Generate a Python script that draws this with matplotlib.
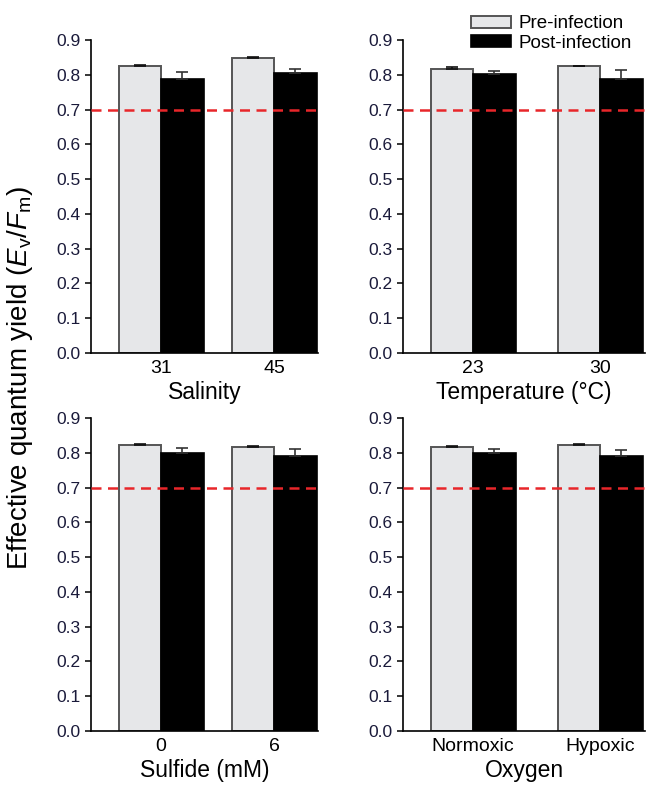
import matplotlib
matplotlib.use("Agg")
import matplotlib.pyplot as plt
from matplotlib.patches import Patch
import numpy as np

plt.rcParams['font.family'] = ['Liberation Sans', 'DejaVu Sans']
plt.rcParams['mathtext.fontset'] = 'custom'
plt.rcParams['mathtext.rm'] = 'Liberation Sans'
plt.rcParams['mathtext.it'] = 'Liberation Sans:italic'

# ---- data ----
panel_titles = ["Salinity", "Temperature (°C)", "Sulfide (mM)", "Oxygen"]
panel_categories = [["31", "45"], ["23", "30"], ["0", "6"], ["Normoxic", "Hypoxic"]]
pre_values = [[0.825, 0.849], [0.818, 0.824], [0.822, 0.817], [0.817, 0.821]]
pre_errors = [[0.003, 0.003], [0.003, 0.001], [0.003, 0.003], [0.003, 0.003]]
post_values = [[0.787, 0.804], [0.801, 0.789], [0.798, 0.792], [0.798, 0.792]]
post_errors = [[0.020, 0.014], [0.009, 0.024], [0.016, 0.018], [0.014, 0.017]]
threshold = 0.7
yticks = [0.0, 0.1, 0.2, 0.3, 0.4, 0.5, 0.6, 0.7, 0.8, 0.9]
legend_labels = ["Pre-infection", "Post-infection"]

W, H = 650, 786
fig = plt.figure(figsize=(W / 100, H / 100), dpi=100)

# axes rectangles in pixels: (left, right, top, bottom)
rects = [(91, 318, 40, 353), (403, 645, 40, 353),
         (91, 318, 418, 731), (403, 645, 418, 731)]
pre_color = "#e6e7e9"
post_color = "#000000"

for i in range(4):
    l, r, t, b = rects[i]
    ax = fig.add_axes([l / W, (H - b) / H, (r - l) / W, (b - t) / H])
    if l < 200:
        c0, sp = 161, 113
    else:
        c0, sp = 473, 127
    bw = 42.5 / sp
    x = np.arange(2)
    ax.bar(x - bw / 2, pre_values[i], bw, color=pre_color, edgecolor="#555555",
           linewidth=1.4, zorder=2)
    ax.bar(x + bw / 2, post_values[i], bw, color=post_color, edgecolor="#000000",
           linewidth=1.2, zorder=2)
    ax.errorbar(x - bw / 2, pre_values[i],
                yerr=[np.zeros(2), pre_errors[i]], fmt="none", ecolor="#111111",
                elinewidth=1.2, capsize=4.5, capthick=1.2, zorder=3)
    ax.errorbar(x + bw / 2, post_values[i],
                yerr=[np.zeros(2), post_errors[i]], fmt="none", ecolor="#333333",
                elinewidth=1.2, capsize=4.5, capthick=1.2, zorder=3)
    ax.axhline(threshold, color="#e8262a", linestyle=(0, (4, 2.6)), linewidth=1.8,
               zorder=4)
    ax.set_xlim((l - c0) / sp, (r - c0) / sp)
    ax.set_ylim(0, 0.9)
    ax.set_yticks(yticks)
    ax.set_yticklabels([f"{v:.1f}" for v in yticks])
    ax.set_xticks(x)
    ax.set_xticklabels(panel_categories[i])
    ax.tick_params(axis="x", length=0, labelsize=14, pad=5)
    ax.tick_params(axis="y", length=4.5, width=1.1, labelsize=12.5, pad=3,
                   direction="out")
    for lab in ax.get_yticklabels():
        lab.set_color("#1a1a3a")
    ax.spines["top"].set_visible(False)
    ax.spines["right"].set_visible(False)
    ax.spines["left"].set_linewidth(1.2)
    ax.spines["bottom"].set_linewidth(1.2)
    ax.set_xlabel(panel_titles[i], fontsize=16.5, labelpad=3)

fig.text(20 / W, 1 - 378 / H,
         r"Effective quantum yield ($\it{E}_{\rm v}$/$\it{F}_{\rm m}$)",
         rotation=90, ha="center", va="center", fontsize=20)

handles = [Patch(facecolor=pre_color, edgecolor="#555555", linewidth=1.4),
           Patch(facecolor=post_color, edgecolor="#000000", linewidth=1.2)]
fig.legend(handles, legend_labels, loc="upper left",
           bbox_to_anchor=(464 / W, 1 - 8 / H), frameon=False, fontsize=13.5,
           handlelength=2.1, handleheight=0.6, handletextpad=0.4,
           labelspacing=0.12, borderaxespad=0)

fig.savefig("out.png", dpi=100)
